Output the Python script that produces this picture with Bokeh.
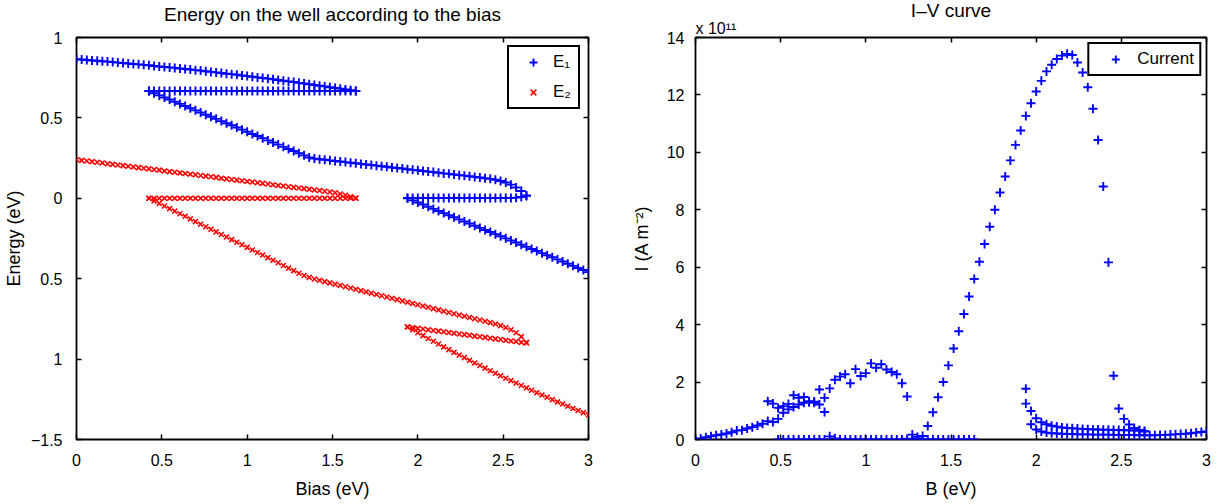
from bokeh.plotting import figure
from bokeh.layouts import row
from bokeh.models import LinearAxis, FixedTicker, Legend, LegendItem, Title, Range1d
from bokeh.embed import file_html
from bokeh.resources import INLINE

FONT = "Liberation Sans"
BLUE = "#0000ff"
RED = "#ff0000"

# bias sampling grid (uniform marker spacing, 100 samples over 0..3 eV)
bias = [round(3 * k / 99, 4) for k in range(100)]

# ---- Energy levels (eV); each branch: (start index on bias grid, values)
E1_A = [0.865, 0.863, 0.860, 0.857, 0.855, 0.852, 0.850, 0.847, 0.844, 0.841,
        0.838, 0.835, 0.833, 0.830, 0.827, 0.823, 0.820, 0.817, 0.814, 0.811,
        0.807, 0.804, 0.801, 0.797, 0.794, 0.790, 0.786, 0.783, 0.779, 0.775,
        0.772, 0.768, 0.764, 0.760, 0.756, 0.752, 0.748, 0.744, 0.740, 0.736,
        0.731, 0.727, 0.723, 0.718, 0.714, 0.709, 0.705, 0.700, 0.696, 0.691,
        0.686, 0.682, 0.677, 0.672, 0.667]
E1_B = [0.667, 0.667, 0.667, 0.667, 0.667, 0.667, 0.667, 0.667, 0.667, 0.667,
        0.667, 0.667, 0.667, 0.667, 0.667, 0.667, 0.667, 0.667, 0.667, 0.667,
        0.667, 0.667, 0.667, 0.667, 0.667, 0.667, 0.667, 0.667, 0.667, 0.667,
        0.667, 0.667, 0.667, 0.667, 0.667, 0.667, 0.667, 0.667, 0.667, 0.667,
        0.667]
E1_C = [0.667, 0.653, 0.640, 0.627, 0.614, 0.600, 0.587, 0.574, 0.560, 0.547,
        0.534, 0.520, 0.507, 0.494, 0.480, 0.467, 0.454, 0.440, 0.427, 0.414,
        0.400, 0.387, 0.374, 0.360, 0.347, 0.334, 0.320, 0.307, 0.294, 0.280,
        0.267, 0.254, 0.247, 0.243, 0.240, 0.236, 0.232, 0.229, 0.225, 0.221,
        0.218, 0.214, 0.210, 0.207, 0.203, 0.199, 0.196, 0.192, 0.188, 0.185,
        0.181, 0.177, 0.174, 0.170, 0.166, 0.163, 0.159, 0.155, 0.152, 0.148,
        0.144, 0.141, 0.137, 0.133, 0.129, 0.125, 0.121, 0.115, 0.108, 0.098,
        0.085, 0.067, 0.045, 0.018]
E1_D = [0.002, 0.002, 0.002, 0.002, 0.002, 0.002, 0.002, 0.002, 0.002, 0.002,
        0.002, 0.002, 0.002, 0.002, 0.002, 0.002, 0.002, 0.002, 0.002, 0.002,
        0.002, 0.004, 0.008, 0.015]
E1_E = [0.000, -0.013, -0.026, -0.039, -0.053, -0.066, -0.079, -0.092, -0.105, -0.118,
        -0.131, -0.144, -0.157, -0.171, -0.184, -0.197, -0.210, -0.223, -0.236, -0.249,
        -0.262, -0.275, -0.289, -0.302, -0.315, -0.328, -0.341, -0.354, -0.367, -0.380,
        -0.393, -0.407, -0.420, -0.433, -0.446, -0.459]

E2_A = [0.240, 0.236, 0.232, 0.228, 0.224, 0.220, 0.215, 0.211, 0.207, 0.203,
        0.199, 0.195, 0.191, 0.187, 0.183, 0.179, 0.175, 0.170, 0.166, 0.162,
        0.158, 0.154, 0.150, 0.146, 0.142, 0.138, 0.134, 0.130, 0.125, 0.121,
        0.117, 0.113, 0.109, 0.105, 0.101, 0.097, 0.093, 0.089, 0.084, 0.080,
        0.076, 0.072, 0.068, 0.064, 0.060, 0.056, 0.052, 0.048, 0.044, 0.039,
        0.034, 0.027, 0.019, 0.010, 0.002]
E2_B = [0.000, 0.000, 0.000, 0.000, 0.000, 0.000, 0.000, 0.000, 0.000, 0.000,
        0.000, 0.000, 0.000, 0.000, 0.000, 0.000, 0.000, 0.000, 0.000, 0.000,
        0.000, 0.000, 0.000, 0.000, 0.000, 0.000, 0.000, 0.000, 0.000, 0.000,
        0.000, 0.000, 0.000, 0.000, 0.000, 0.000, 0.000, 0.000, 0.000, 0.000,
        0.000]
E2_C = [0.000, -0.016, -0.032, -0.048, -0.064, -0.080, -0.096, -0.112, -0.128, -0.145,
        -0.161, -0.177, -0.193, -0.209, -0.225, -0.241, -0.257, -0.273, -0.289, -0.305,
        -0.321, -0.337, -0.353, -0.369, -0.385, -0.401, -0.418, -0.434, -0.450, -0.466,
        -0.480, -0.492, -0.502, -0.510, -0.518, -0.526, -0.534, -0.542, -0.550, -0.558,
        -0.566, -0.574, -0.582, -0.590, -0.598, -0.606, -0.614, -0.622, -0.630, -0.638,
        -0.646, -0.654, -0.662, -0.670, -0.678, -0.686, -0.694, -0.702, -0.710, -0.718,
        -0.726, -0.733, -0.741, -0.749, -0.757, -0.765, -0.773, -0.782, -0.792, -0.804,
        -0.818, -0.836, -0.860, -0.895]
E2_D = [-0.800, -0.804, -0.809, -0.813, -0.817, -0.822, -0.826, -0.830, -0.835, -0.839,
        -0.844, -0.848, -0.852, -0.857, -0.861, -0.865, -0.870, -0.874, -0.878, -0.883,
        -0.887, -0.891, -0.896, -0.900]
E2_E = [-0.800, -0.818, -0.836, -0.854, -0.872, -0.889, -0.906, -0.924, -0.941, -0.958,
        -0.975, -0.991, -1.008, -1.024, -1.040, -1.056, -1.072, -1.088, -1.104, -1.119,
        -1.134, -1.149, -1.164, -1.179, -1.194, -1.209, -1.223, -1.237, -1.252, -1.266,
        -1.279, -1.293, -1.307, -1.320, -1.333, -1.346]

E1_branches = [(0, E1_A), (14, E1_B), (14, E1_C), (64, E1_D), (64, E1_E)]
E2_branches = [(0, E2_A), (14, E2_B), (14, E2_C), (64, E2_D), (64, E2_E)]

# ---- Current (units of 1e11 A m^-2)
CUR_LOW = [0.00, 0.035, 0.08, 0.115, 0.15, 0.175, 0.21, 0.255, 0.31, 0.325,
           0.385, 0.43, 0.49, 0.55, 0.64, 0.61, 0.72, 0.93, 1.05, 1.13,
           1.22, 1.28, 1.30, 1.32, 1.22, 0.96]
CUR_UP = [1.33, 1.25, 1.10, 1.16, 1.24, 1.54, 1.45, 1.48, 1.33, 1.28, 1.74, 1.45]
CUR_MID = [1.78, 2.08, 2.19, 2.27, 1.96, 2.45, 2.21, 2.31, 2.65, 2.50,
           2.62, 2.44, 2.35, 2.27, 1.96, 1.50, 0.17, 0.09, 0.12]
CUR_PEAK = [0.47, 0.95, 1.47, 2.00, 2.58, 3.17, 3.77, 4.37, 4.98, 5.59,
            6.19, 6.81, 7.41, 8.00, 8.60, 9.16, 9.72, 10.26, 10.76, 11.27,
            11.71, 12.12, 12.49, 12.82, 13.05, 13.25, 13.37, 13.43, 13.39, 13.13,
            12.78, 12.27, 11.52, 10.43, 8.81, 6.17, 2.22, 1.08, 0.72, 0.52,
            0.40, 0.33, 0.28]
CUR_ZERO = [0.00, 0.00, 0.00, 0.00, 0.00, 0.00, 0.00, 0.00, 0.00, 0.00,
            0.11, 0.04, 0.00, 0.00, 0.00, 0.00, 0.00, 0.00, 0.00, 0.00,
            0.00, 0.00, 0.00, 0.00, 0.00, 0.03, 0.02, 0.02, 0.00, 0.00,
            0.00, 0.00, 0.00, 0.00, 0.00, 0.00, 0.00, 0.00, 0.00]
CUR_D = [1.77, 0.99, 0.74, 0.60, 0.53, 0.48, 0.45, 0.42, 0.40, 0.39,
         0.38, 0.37, 0.36, 0.35, 0.35, 0.34, 0.34, 0.33, 0.33, 0.32,
         0.32, 0.31, 0.31, 0.30]
CUR_E = [1.25, 0.53, 0.35, 0.28, 0.24, 0.22, 0.21, 0.20, 0.19, 0.19,
         0.18, 0.18, 0.18, 0.17, 0.17, 0.17, 0.17, 0.16, 0.16, 0.16,
         0.16, 0.16, 0.15, 0.15, 0.15, 0.15, 0.16, 0.16, 0.17, 0.18,
         0.19, 0.20, 0.22, 0.24, 0.26, 0.28]
CUR_branches = [(0, CUR_LOW), (14, CUR_UP), (26, CUR_MID), (45, CUR_PEAK),
                (16, CUR_ZERO), (64, CUR_D), (64, CUR_E)]

X_TICKS = [0, 0.5, 1, 1.5, 2, 2.5, 3]
X_TICK_LABELS = ["0", "0.5", "1", "1.5", "2", "2.5", "3"]
E_TICKS = [-1.5, -1, -0.5, 0, 0.5, 1]
E_TICK_LABELS = ["\u22121.5", "1", "0.5", "0", "0.5", "1"]
I_TICKS = [0, 2, 4, 6, 8, 10, 12, 14]
I_TICK_LABELS = ["0", "2", "4", "6", "8", "10", "12", "14"]

LEFT_TITLE = "Energy on the well according to the bias"
RIGHT_TITLE = "I\u2013V curve"


def collect(branches):
    xs, ys = [], []
    for start, vals in branches:
        xs += bias[start:start + len(vals)]
        ys += vals
    return xs, ys


def style(p, xticks, xlabels, yticks, ylabels, xlabel, ylabel, ystand, ylab_stand,
          top_label=None):
    p.xaxis.ticker = FixedTicker(ticks=xticks)
    p.yaxis.ticker = FixedTicker(ticks=yticks)
    p.xaxis.major_label_overrides = dict(zip(xticks, xlabels))
    p.yaxis.major_label_overrides = dict(zip(yticks, ylabels))
    p.xaxis.axis_label = xlabel
    p.yaxis.axis_label = ylabel
    for ax in (p.xaxis[0], p.yaxis[0]):
        ax.axis_line_color = None
        ax.major_tick_in = 5
        ax.major_tick_out = 0
        ax.major_tick_line_width = 1.5
        ax.minor_tick_line_color = None
        ax.major_label_text_font = FONT
        ax.major_label_text_font_size = "16px"
        ax.major_label_text_color = "black"
        ax.axis_label_text_font = FONT
        ax.axis_label_text_font_size = "18px"
        ax.axis_label_text_font_style = "normal"
        ax.axis_label_text_color = "black"
    p.xaxis.major_label_standoff = 14
    p.xaxis.axis_label_standoff = 10
    p.yaxis.major_label_standoff = ystand
    p.yaxis.axis_label_standoff = ylab_stand
    for side, ticks in (("above", xticks), ("right", yticks)):
        ax = LinearAxis(ticker=FixedTicker(ticks=ticks), axis_line_color=None,
                        major_tick_in=5, major_tick_out=0, major_tick_line_width=1.5,
                        minor_tick_line_color=None,
                        major_label_overrides={t: "" for t in ticks},
                        major_label_standoff=0)
        if side == "above" and top_label is not None:
            # chart heading, centred over the frame
            ax.axis_label = top_label
            ax.axis_label_text_font = FONT
            ax.axis_label_text_font_size = "19px"
            ax.axis_label_text_font_style = "normal"
            ax.axis_label_text_color = "black"
            ax.axis_label_standoff = 13
        p.add_layout(ax, side)
    p.xgrid.visible = False
    p.ygrid.visible = False
    p.outline_line_color = "black"
    p.outline_line_width = 1.8
    p.outline_line_alpha = 1.0
    p.background_fill_color = "white"
    p.border_fill_color = "white"


# ---------------- Left: energy levels ----------------
p1 = figure(frame_width=512, frame_height=402,
            x_range=Range1d(0, 3), y_range=Range1d(-1.5, 1),
            min_border_left=73, min_border_right=19, min_border_top=37, min_border_bottom=56,
            output_backend="svg", toolbar_location=None)
style(p1, X_TICKS, X_TICK_LABELS, E_TICKS, E_TICK_LABELS, "Bias (eV)", "Energy (eV)", 14, 4,
      top_label=LEFT_TITLE)

x1, y1 = collect(E1_branches)
x2, y2 = collect(E2_branches)
r1 = p1.scatter(x1, y1, marker="cross", size=9, line_color=BLUE, line_width=1.9)
r2 = p1.scatter(x2, y2, marker="x", size=7, line_color=RED, line_width=1.6)

leg1 = Legend(items=[LegendItem(label="E\u2081", renderers=[r1]),
                     LegendItem(label="E\u2082", renderers=[r2])],
              location="top_right", margin=8, padding=5, spacing=10,
              glyph_width=38, glyph_height=20, label_height=20, label_standoff=1,
              border_line_color="black", border_line_width=2, border_line_alpha=1.0,
              label_text_font=FONT, label_text_font_size="17px",
              label_text_color="black",
              background_fill_color="white", background_fill_alpha=1.0)
p1.add_layout(leg1)

# ---------------- Right: I-V curve ----------------
p2 = figure(title=RIGHT_TITLE,
            frame_width=511, frame_height=402,
            x_range=Range1d(0, 3), y_range=Range1d(0, 14),
            min_border_left=88, min_border_right=5, min_border_top=37, min_border_bottom=56,
            output_backend="svg", toolbar_location=None)
style(p2, X_TICKS, X_TICK_LABELS, I_TICKS, I_TICK_LABELS, "B (eV)", "I (A m\u207b\u00b2)", 11, 12)
p2.title.text_font = FONT
p2.title.text_font_size = "19px"
p2.title.text_font_style = "normal"
p2.title.text_color = "black"
p2.title.align = "center"
p2.title.standoff = -6

# axis multiplier written just above the top-left corner of the frame
p2.add_layout(Title(text="x 10\u00b9\u00b9", align="left", text_font=FONT,
                    text_font_size="16px", text_font_style="normal",
                    text_color="black", standoff=1), "above")

x3, y3 = collect(CUR_branches)
r3 = p2.scatter(x3, y3, marker="cross", size=9, line_color=BLUE, line_width=1.9)

leg2 = Legend(items=[LegendItem(label="Current", renderers=[r3])],
              location="top_right", margin=5, padding=5, spacing=10,
              glyph_width=42, glyph_height=20, label_height=20, label_standoff=1,
              border_line_color="black", border_line_width=2, border_line_alpha=1.0,
              label_text_font=FONT, label_text_font_size="17px",
              label_text_color="black",
              background_fill_color="white", background_fill_alpha=1.0)
p2.add_layout(leg2)

layout = row(p1, p2)
open("out.html", "w").write(file_html(layout, INLINE))
